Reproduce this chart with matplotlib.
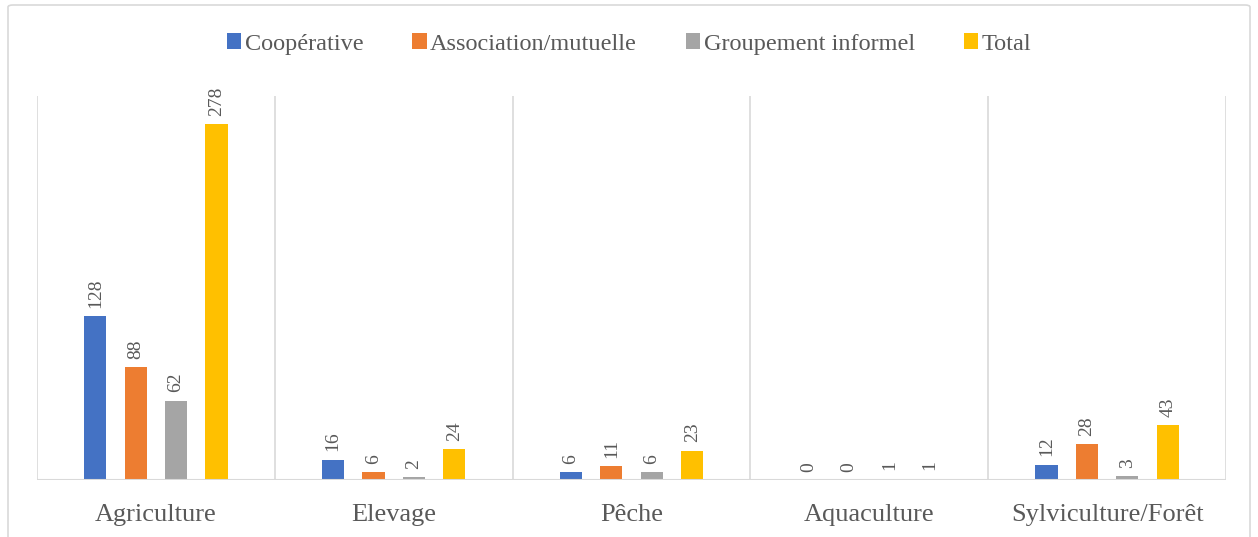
import numpy as np
import matplotlib
matplotlib.use("Agg")
import matplotlib.pyplot as plt
from matplotlib.patches import FancyBboxPatch

categories = ["Agriculture", "Elevage", "Pêche", "Aquaculture", "Sylviculture/Forêt"]
series = ["Coopérative", "Association/mutuelle", "Groupement informel", "Total"]
cooperative = [128, 16, 6, 0, 12]
association = [88, 6, 11, 0, 28]
groupement = [62, 2, 6, 1, 3]
total = [278, 24, 23, 1, 43]
colors = ["#4472C4", "#ED7D31", "#A5A5A5", "#FFC000"]

plt.rcParams["font.family"] = ["Liberation Serif", "DejaVu Serif"]
TXT = "#595959"

fig = plt.figure(figsize=(12.58, 5.37), dpi=100)
ax = fig.add_axes([37 / 1258, 1 - 480 / 537, (1226 - 37) / 1258, (480 - 96) / 537])

# outer chart border
fig.patches.append(FancyBboxPatch((8 / 1258, -0.02), 1242 / 1258, 1 - 5 / 537 + 0.02,
                                  boxstyle="round,pad=0,rounding_size=0.004",
                                  transform=fig.transFigure, fill=False,
                                  edgecolor="#d9d9d9", lw=1.2))

x = np.arange(len(categories))
step, w = 0.17, 0.093
offs = [-1.5, -0.5, 0.5, 1.5]
for vals, name, c, o in zip([cooperative, association, groupement, total], series, colors, offs):
    bars = ax.bar(x + o * step, vals, w, color=c, label=name, zorder=3)
    for b, v in zip(bars, vals):
        ax.annotate(f"{v}", (b.get_x() + b.get_width() / 2, v), textcoords="offset points",
                    xytext=(0, 6), ha="center", va="bottom", rotation=90,
                    fontsize=14, color=TXT)

ax.set_xlim(-0.5, len(categories) - 0.5)
ax.set_ylim(0, 300)
for b in np.arange(-0.5, len(categories), 1.0):
    ax.axvline(b, color="#d9d9d9", lw=1.2, zorder=1)
ax.axhline(0, color="#d9d9d9", lw=1.5, zorder=4)
ax.set_yticks([])
ax.set_xticks(x)
ax.set_xticklabels(categories, fontsize=19, color=TXT)
ax.tick_params(axis="x", length=0, pad=17)
for s in ax.spines.values():
    s.set_visible(False)

fig.legend(loc="center", bbox_to_anchor=(0.5, 1 - 44 / 537), ncol=4, frameon=False,
           fontsize=17.5, labelcolor=TXT, handlelength=0.6, handleheight=0.6,
           handletextpad=0.15, columnspacing=2.0)

fig.savefig("out.png", dpi=100)
